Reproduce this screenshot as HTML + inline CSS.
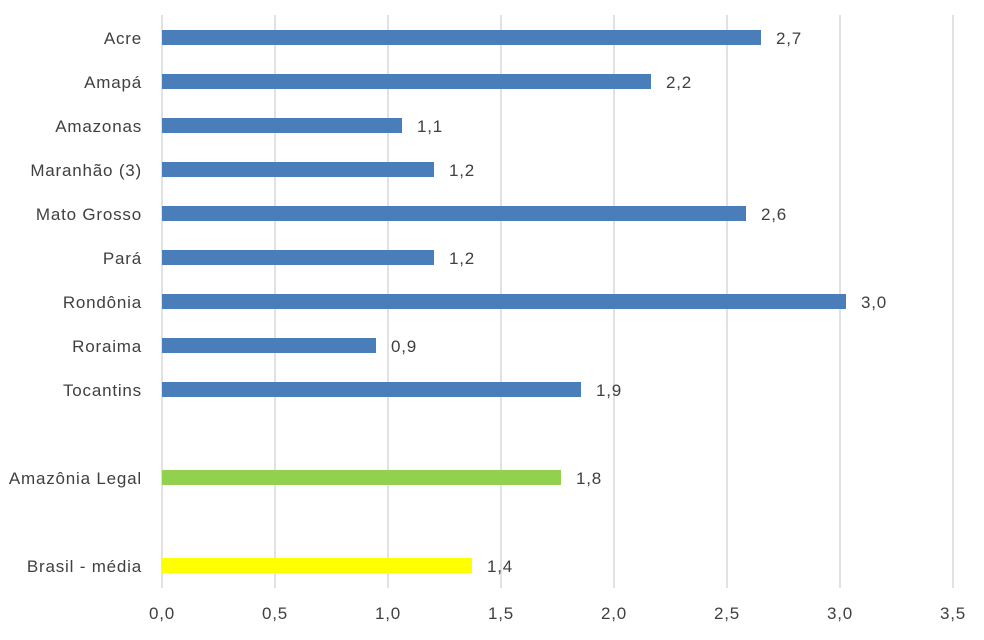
<!DOCTYPE html>
<html><head><meta charset="utf-8"><style>
html,body{margin:0;padding:0;background:#fff;width:984px;height:640px;overflow:hidden}
text{font-family:"Liberation Sans",sans-serif;font-size:17px;letter-spacing:0.8px;fill:#404040}
</style></head><body>
<svg width="984" height="640" xmlns="http://www.w3.org/2000/svg">
<g stroke="#d9d9d9" stroke-width="1.5">
<line x1="162" y1="15" x2="162" y2="588"/>
<line x1="275" y1="15" x2="275" y2="588"/>
<line x1="388" y1="15" x2="388" y2="588"/>
<line x1="501" y1="15" x2="501" y2="588"/>
<line x1="614" y1="15" x2="614" y2="588"/>
<line x1="727" y1="15" x2="727" y2="588"/>
<line x1="840" y1="15" x2="840" y2="588"/>
<line x1="953" y1="15" x2="953" y2="588"/>
</g>
<g fill="#4a7ebb">
<rect x="162" y="30" width="599" height="15"/>
<rect x="162" y="74" width="489" height="15"/>
<rect x="162" y="118" width="240" height="15"/>
<rect x="162" y="162" width="272" height="15"/>
<rect x="162" y="206" width="584" height="15"/>
<rect x="162" y="250" width="272" height="15"/>
<rect x="162" y="294" width="684" height="15"/>
<rect x="162" y="338" width="214" height="15"/>
<rect x="162" y="382" width="419" height="15"/>
</g>
<rect x="162" y="470" width="399" height="15" fill="#92d050"/>
<rect x="162" y="558" width="310" height="15" fill="#ffff00"/>
<g text-anchor="end">
<text x="142" y="44">Acre</text>
<text x="142" y="88">Amapá</text>
<text x="142" y="132">Amazonas</text>
<text x="142" y="176">Maranhão (3)</text>
<text x="142" y="220">Mato Grosso</text>
<text x="142" y="264">Pará</text>
<text x="142" y="308">Rondônia</text>
<text x="142" y="352">Roraima</text>
<text x="142" y="396">Tocantins</text>
<text x="142" y="484">Amazônia Legal</text>
<text x="142" y="572">Brasil - média</text>
</g>
<g>
<text x="776" y="44">2,7</text>
<text x="666" y="88">2,2</text>
<text x="417" y="132">1,1</text>
<text x="449" y="176">1,2</text>
<text x="761" y="220">2,6</text>
<text x="449" y="264">1,2</text>
<text x="861" y="308">3,0</text>
<text x="391" y="352">0,9</text>
<text x="596" y="396">1,9</text>
<text x="576" y="484">1,8</text>
<text x="487" y="572">1,4</text>
</g>
<g text-anchor="middle">
<text x="162" y="619">0,0</text>
<text x="275" y="619">0,5</text>
<text x="388" y="619">1,0</text>
<text x="501" y="619">1,5</text>
<text x="614" y="619">2,0</text>
<text x="727" y="619">2,5</text>
<text x="840" y="619">3,0</text>
<text x="953" y="619">3,5</text>
</g>
</svg>
</body></html>
